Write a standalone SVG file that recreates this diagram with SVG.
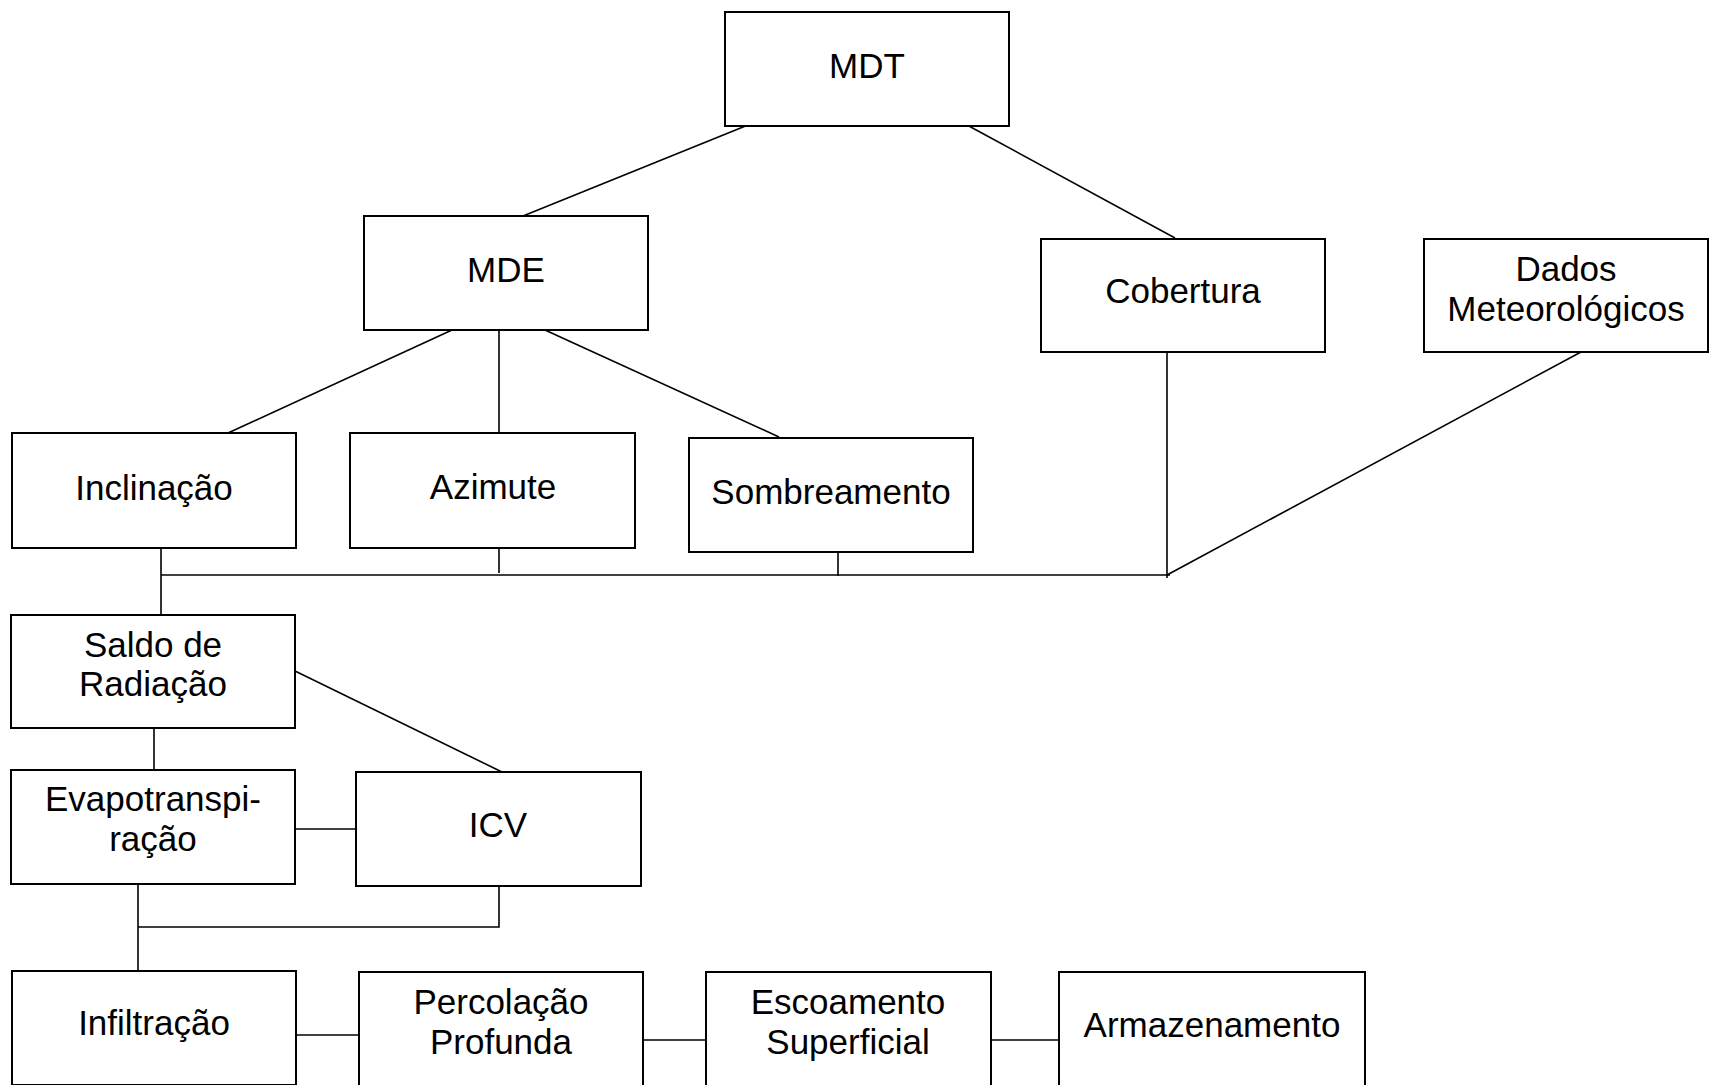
<svg xmlns="http://www.w3.org/2000/svg" width="1709" height="1085" viewBox="0 0 1709 1085">
<style>
.box{fill:#fff;stroke:#000;stroke-width:2}
.t{font-family:"Liberation Sans",Arial,sans-serif;font-size:35px;fill:#000;text-anchor:middle}
.c line,.c polyline{stroke:#000;stroke-width:1.6;fill:none}
</style>
<rect width="1709" height="1085" fill="#fff"/>
<g class="c" id="connectors">
<line x1="748" y1="125" x2="523" y2="216"/>
<line x1="967" y1="125" x2="1175" y2="238"/>
<line x1="452" y1="330" x2="228" y2="433"/>
<line x1="499" y1="330" x2="499" y2="433"/>
<line x1="545" y1="330" x2="779" y2="437"/>
<line x1="1167" y1="352" x2="1167" y2="578"/>
<line x1="1581" y1="352" x2="1167" y2="575"/>
<line x1="161" y1="575" x2="1170" y2="575"/>
<line x1="161" y1="548" x2="161" y2="615"/>
<line x1="499" y1="548" x2="499" y2="573"/>
<line x1="838" y1="552" x2="838" y2="576"/>
<line x1="154" y1="728" x2="154" y2="770"/>
<line x1="295" y1="671" x2="502" y2="772"/>
<line x1="295" y1="829" x2="356" y2="829"/>
<line x1="138" y1="884" x2="138" y2="971"/>
<polyline points="138,927 499,927 499,886"/>
<line x1="296" y1="1035" x2="359" y2="1035"/>
<line x1="643" y1="1040" x2="706" y2="1040"/>
<line x1="991" y1="1040" x2="1059" y2="1040"/>
</g>
<g id="mdt"><rect class="box" x="725" y="12" width="284" height="114"/><text class="t" x="867" y="78">MDT</text></g>
<g id="mde"><rect class="box" x="364" y="216" width="284" height="114"/><text class="t" x="506" y="282">MDE</text></g>
<g id="cobertura"><rect class="box" x="1041" y="239" width="284" height="113"/><text class="t" x="1183" y="303">Cobertura</text></g>
<g id="dados"><rect class="box" x="1424" y="239" width="284" height="113"/><text class="t" x="1566" y="281">Dados</text><text class="t" x="1566" y="321">Meteorológicos</text></g>
<g id="inclinacao"><rect class="box" x="12" y="433" width="284" height="115"/><text class="t" x="154" y="500">Inclinação</text></g>
<g id="azimute"><rect class="box" x="350" y="433" width="285" height="115"/><text class="t" x="493" y="499">Azimute</text></g>
<g id="sombreamento"><rect class="box" x="689" y="438" width="284" height="114"/><text class="t" x="831" y="504">Sombreamento</text></g>
<g id="saldo"><rect class="box" x="11" y="615" width="284" height="113"/><text class="t" x="153" y="657">Saldo de</text><text class="t" x="153" y="696">Radiação</text></g>
<g id="evapo"><rect class="box" x="11" y="770" width="284" height="114"/><text class="t" x="153" y="811">Evapotranspi-</text><text class="t" x="153" y="851">ração</text></g>
<g id="icv"><rect class="box" x="356" y="772" width="285" height="114"/><text class="t" x="498" y="837">ICV</text></g>
<g id="infiltracao"><rect class="box" x="12" y="971" width="284" height="114"/><text class="t" x="154" y="1035">Infiltração</text></g>
<g id="percolacao"><rect class="box" x="359" y="972" width="284" height="114"/><text class="t" x="501" y="1014">Percolação</text><text class="t" x="501" y="1054">Profunda</text></g>
<g id="escoamento"><rect class="box" x="706" y="972" width="285" height="114"/><text class="t" x="848" y="1014">Escoamento</text><text class="t" x="848" y="1054">Superficial</text></g>
<g id="armazenamento"><rect class="box" x="1059" y="972" width="306" height="114"/><text class="t" x="1212" y="1037">Armazenamento</text></g>
</svg>
